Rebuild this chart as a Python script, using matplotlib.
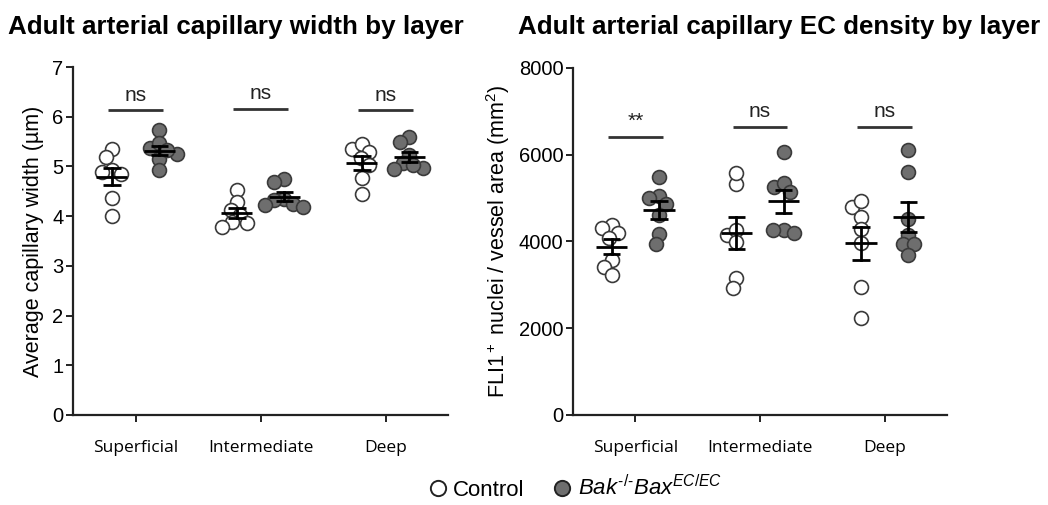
import numpy as np
import matplotlib
matplotlib.use("Agg")
import matplotlib.pyplot as plt
from matplotlib.lines import Line2D

# ---------------- data ----------------
layers = ["Superficial", "Intermediate", "Deep"]

width_control = [
    [5.36, 5.18, 4.93, 4.89, 4.85, 4.36, 4.00],
    [4.53, 4.29, 4.12, 4.02, 3.89, 3.86, 3.79],
    [5.36, 5.45, 5.30, 5.16, 5.03, 4.76, 4.45],
]
width_bak = [
    [5.73, 5.38, 5.47, 5.25, 5.14, 4.93, 5.33],
    [4.74, 4.68, 4.35, 4.33, 4.25, 4.18, 4.22],
    [5.60, 5.50, 5.23, 5.06, 4.96, 4.95, 5.03],
]
density_control = [
    [4380, 4303, 4188, 4073, 3573, 3418, 3227],
    [5325, 5585, 4149, 4264, 3995, 3151, 2920],
    [4802, 4940, 4571, 4280, 3958, 2957, 2229],
]
density_bak = [
    [5479, 5048, 4995, 4864, 4610, 4172, 3942],
    [6055, 5248, 5341, 5147, 4264, 4264, 4188],
    [6108, 5594, 4511, 4149, 3942, 3942, 3688],
]
width_sig = ["ns", "ns", "ns"]
width_sig_y = [6.13, 6.16, 6.13]
density_sig = ["**", "ns", "ns"]
density_sig_y = [6415, 6640, 6640]

# ---------------- style ----------------
plt.rcParams["font.family"] = ["Liberation Sans", "DejaVu Sans"]
plt.rcParams["mathtext.fontset"] = "custom"
plt.rcParams["mathtext.rm"] = "Liberation Sans"
plt.rcParams["mathtext.it"] = "Liberation Sans:italic"
plt.rcParams["mathtext.bf"] = "Liberation Sans:bold"

W, H = 1048, 505
fig = plt.figure(figsize=(W / 100, H / 100), dpi=100)

ax1 = fig.add_axes([73 / W, (H - 415) / H, 375 / W, 348 / H])
ax2 = fig.add_axes([573 / W, (H - 415) / H, 374 / W, 347 / H])

OPEN_EDGE = "#3a3a3a"
FILL = "#6e6e6e"
MS = 10.0  # marker size in points
DIAM_PX = MS * 100 / 72


def swarm(vals, px_per_unit, px_per_x, min_sep):
    """Simple beeswarm: returns x offsets (data units) for each value."""
    ys = np.asarray(vals, float) * px_per_unit
    order = np.argsort(-ys)
    placed = []
    offs = np.zeros(len(ys))
    for i in order:
        cands = [0.0]
        for (xj, yj) in placed:
            dy = ys[i] - yj
            if abs(dy) < min_sep:
                dx = np.sqrt(min_sep ** 2 - dy ** 2)
                cands += [xj - dx, xj + dx]
        cands = sorted(cands, key=lambda c: (abs(c), c))
        for c in cands:
            ok = True
            for (xj, yj) in placed:
                if (c - xj) ** 2 + (ys[i] - yj) ** 2 < min_sep ** 2 - 1e-6:
                    ok = False
                    break
            if ok:
                offs[i] = c
                placed.append((c, ys[i]))
                break
    return offs / px_per_x


def draw_panel(ax, ctrl, bak, ymax, yticks, sig, sig_y, ylabel, title, title_x,
               labelpad):
    ax.set_xlim(-0.5, 2.5)
    ax.set_ylim(0, ymax)
    bbox = ax.get_window_extent()
    px_per_unit = bbox.height / ymax
    px_per_x = bbox.width / 3.0
    for g in range(3):
        for vals, dx, fc in ((ctrl[g], -0.19, "white"), (bak[g], 0.19, FILL)):
            v = np.asarray(vals, float)
            offs = swarm(v, px_per_unit, px_per_x, DIAM_PX * 0.75)
            ax.scatter(g + dx + offs, v, s=MS ** 2, facecolor=fc,
                       edgecolor=OPEN_EDGE, linewidth=1.2, zorder=3)
            m = v.mean()
            sem = v.std(ddof=1) / np.sqrt(len(v))
            c = g + dx
            ax.plot([c - 0.125, c + 0.125], [m, m], color="black", lw=2, zorder=4,
                    solid_capstyle="butt")
            ax.plot([c, c], [m - sem, m + sem], color="black", lw=2, zorder=4)
            for yy in (m - sem, m + sem):
                ax.plot([c - 0.07, c + 0.07], [yy, yy], color="black", lw=2,
                        zorder=4, solid_capstyle="butt")
        ax.plot([g - 0.22, g + 0.22], [sig_y[g], sig_y[g]], color="#333333",
                lw=2, solid_capstyle="butt")
        ax.text(g, sig_y[g] + ymax * 0.016, sig[g], ha="center", va="bottom",
                fontsize=15, color="#222222")
    for s in ("top", "right"):
        ax.spines[s].set_visible(False)
    for s in ("left", "bottom"):
        ax.spines[s].set_linewidth(1.6)
        ax.spines[s].set_color("#222222")
    ax.set_xticks(range(3))
    ax.set_xticklabels(layers, family=["Open Sans", "DejaVu Sans"], fontsize=12.5)
    ax.set_yticks(yticks)
    ax.tick_params(axis="both", direction="out", length=5, width=1.4,
                   color="#222222")
    ax.tick_params(axis="x", pad=13)
    ax.tick_params(axis="y", labelsize=14.5, pad=2)
    ax.set_ylabel(ylabel, fontsize=15.5, labelpad=labelpad)
    fig.text(title_x, 1 - 27 / H, title, fontsize=18.7, fontweight="bold",
             ha="left", va="center")


draw_panel(ax1, width_control, width_bak, 7, range(0, 8), width_sig, width_sig_y,
           "Average capillary width (µm)",
           "Adult arterial capillary width by layer", 8 / W, 6)
draw_panel(ax2, density_control, density_bak, 8000, range(0, 8001, 2000),
           density_sig, density_sig_y,
           r"FLI1$^+$ nuclei / vessel area (mm$^2$)",
           "Adult arterial capillary EC density by layer", 518 / W, 5)

handles = [
    Line2D([], [], marker="o", ls="none", markersize=11, markerfacecolor="white",
           markeredgecolor="#222222", markeredgewidth=1.4),
    Line2D([], [], marker="o", ls="none", markersize=11, markerfacecolor=FILL,
           markeredgecolor="#222222", markeredgewidth=1.4),
]
fig.legend(handles, ["Control", r"$\it{Bak}^{\text{-/-}}\it{Bax}^{EC/EC}$"],
           loc="center", bbox_to_anchor=(572 / W, 1 - 488 / H), ncol=2,
           frameon=False, fontsize=16, handletextpad=0.0, columnspacing=1.0,
           handlelength=1.4)

fig.savefig("out.png", dpi=100)
